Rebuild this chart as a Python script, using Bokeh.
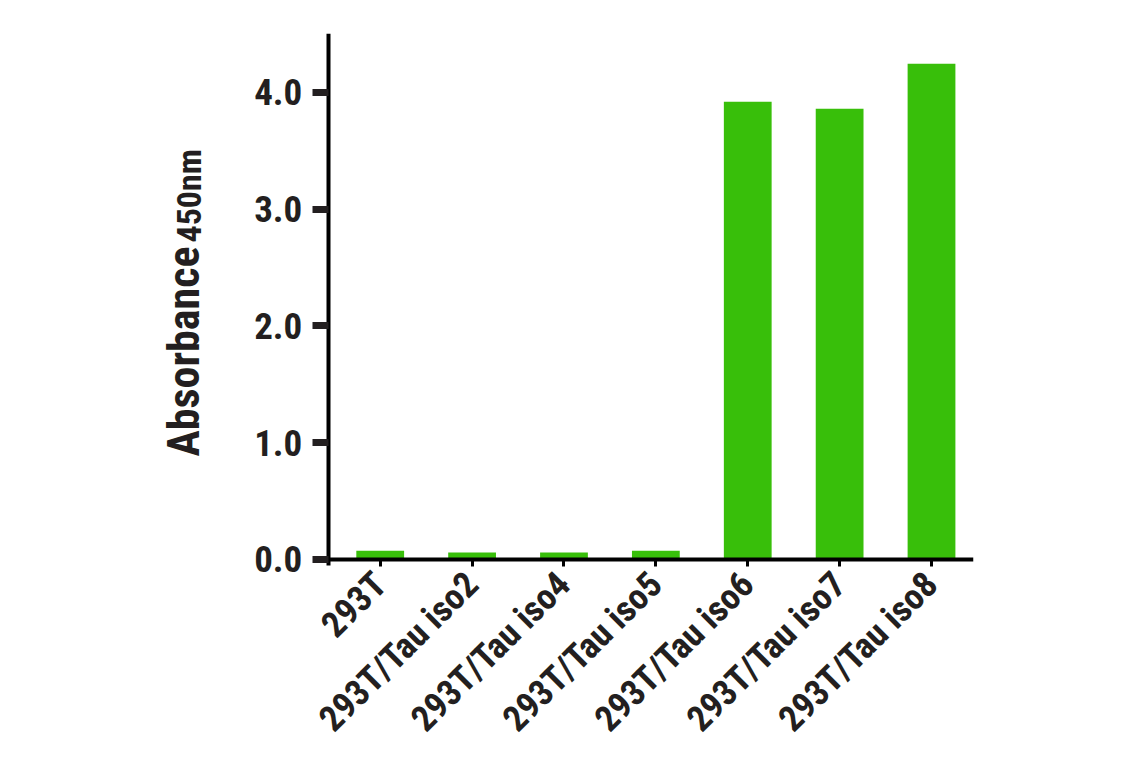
import math
from bokeh.plotting import figure
from bokeh.models import Range1d, FixedTicker, Label
from bokeh.embed import file_html
from bokeh.resources import INLINE

categories = ["293T", "293T/Tau iso2", "293T/Tau iso4", "293T/Tau iso5",
              "293T/Tau iso6", "293T/Tau iso7", "293T/Tau iso8"]
absorbance = [0.075, 0.06, 0.06, 0.075, 3.92, 3.86, 4.245]
y_ticks = [0.0, 1.0, 2.0, 3.0, 4.0]
y_tick_labels = ["0.0", "1.0", "2.0", "3.0", "4.0"]
y_title = "Absorbance"
y_title_sub = "450nm"

FONT = "Roboto Condensed"
INK = "#231f20"
GREEN = "#38bf0a"

xs = list(range(len(categories)))
X_AXIS_START = -0.565
X_END = 6.457
Y_END = 4.505

p = figure(width=1133, height=760, output_backend="svg", toolbar_location=None,
           x_range=Range1d(-2.5, X_END), y_range=Range1d(-1.636, Y_END),
           min_border_left=150, min_border_right=160, min_border_top=33,
           min_border_bottom=10)
p.outline_line_color = None
p.grid.grid_line_color = None
p.background_fill_color = "white"

p.vbar(x=xs, top=absorbance, width=0.52, bottom=0, fill_color=GREEN, line_color=None)

# y axis, drawn inside the frame at the left end of the category axis
ya = p.yaxis[0]
ya.fixed_location = X_AXIS_START
ya.bounds = (-0.05, Y_END)
ya.ticker = FixedTicker(ticks=y_ticks)
ya.major_label_overrides = {t: l for t, l in zip(y_ticks, y_tick_labels)}
ya.axis_line_width = 4
ya.axis_line_color = "black"
ya.major_tick_out = 16
ya.major_tick_in = 0
ya.major_tick_line_width = 7
ya.major_tick_line_color = INK
ya.minor_tick_line_color = None
ya.major_label_text_font = FONT
ya.major_label_text_font_style = "bold"
ya.major_label_text_font_size = "37px"
ya.major_label_text_color = INK
ya.major_label_standoff = 10

# x axis, drawn at y = 0
xa = p.xaxis[0]
xa.fixed_location = 0
xa.bounds = (X_AXIS_START, X_END)
xa.ticker = FixedTicker(ticks=xs)
xa.major_label_overrides = {i: c for i, c in zip(xs, categories)}
xa.axis_line_width = 4
xa.axis_line_color = "black"
xa.major_tick_out = 7
xa.major_tick_in = 0
xa.major_tick_line_width = 3
xa.major_tick_line_color = "black"
xa.minor_tick_line_color = None
xa.major_label_orientation = math.pi / 4
xa.major_label_text_font = FONT
xa.major_label_text_font_style = "bold"
xa.major_label_text_font_size = "36px"
xa.major_label_text_color = INK
xa.major_label_standoff = 12

# y title with subscript (screen units relative to the plot frame)
p.add_layout(Label(x=33, y=294, x_units="screen", y_units="screen",
                   text=y_title, angle=math.pi / 2,
                   text_align="left", text_baseline="alphabetic",
                   text_font=FONT, text_font_style="bold", text_font_size="44px",
                   text_color=INK))
p.add_layout(Label(x=38, y=508, x_units="screen", y_units="screen",
                   text=y_title_sub, angle=math.pi / 2,
                   text_align="left", text_baseline="alphabetic",
                   text_font=FONT, text_font_style="bold", text_font_size="34px",
                   text_color=INK))

open("out.html", "w").write(file_html(p, INLINE))
